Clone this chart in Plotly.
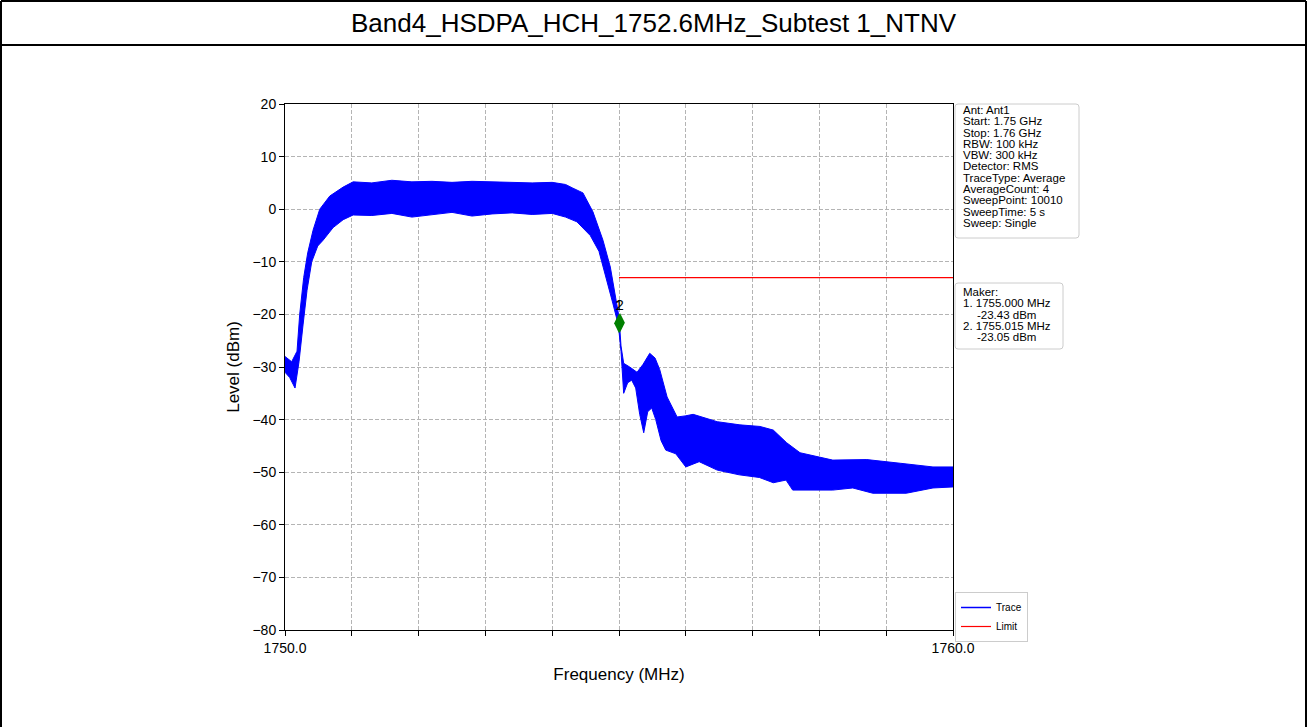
import plotly.graph_objects as go

W, H = 1308, 727

# ---------------- data ----------------
freq_upper = [1750.00, 1750.05, 1750.10, 1750.18, 1750.22, 1750.28, 1750.34, 1750.42, 1750.52, 1750.67,
              1750.87, 1751.02, 1751.3, 1751.6, 1751.9, 1752.2, 1752.5, 1752.8, 1753.1, 1753.4,
              1753.7, 1754.0, 1754.2, 1754.31, 1754.46, 1754.61, 1754.76, 1754.87, 1754.94, 1755.00,
              1755.03, 1755.07, 1755.16, 1755.27, 1755.36, 1755.46, 1755.54, 1755.61, 1755.72, 1755.87,
              1755.99, 1756.11, 1756.47, 1756.81, 1757.11, 1757.31, 1757.51, 1757.71, 1758.20, 1758.71,
              1759.21, 1759.70, 1760.00]
level_upper = [-28, -28.5, -29, -27, -20, -13, -8.3, -4, 0, 2.5,
               4.2, 5.2, 5.0, 5.5, 5.2, 5.3, 5.1, 5.3, 5.2, 5.2,
               5.0, 5.1, 4.7, 4.0, 3.1, -0.5, -5.9, -11, -16.5, -20.5,
               -26, -29.3, -30, -31, -29.5, -27.4, -28.3, -30.5, -35.7, -39.5,
               -39.3, -39.0, -40.4, -41.0, -41.3, -42.0, -44.4, -46.3, -47.7, -47.6,
               -48.3, -49, -49]

freq_lower = [1750.00, 1750.07, 1750.15, 1750.21, 1750.27, 1750.33, 1750.40, 1750.49, 1750.57, 1750.72,
              1750.87, 1751.02, 1751.3, 1751.6, 1751.9, 1752.2, 1752.5, 1752.8, 1753.1, 1753.4,
              1753.7, 1754.0, 1754.2, 1754.37, 1754.57, 1754.70, 1754.81, 1754.91, 1754.99, 1755.03,
              1755.07, 1755.13, 1755.19, 1755.25, 1755.31, 1755.37, 1755.43, 1755.49, 1755.55, 1755.63,
              1755.70, 1755.85, 1756.0, 1756.2, 1756.47, 1756.8, 1757.1, 1757.31, 1757.5, 1757.6,
              1758.2, 1758.5, 1758.8, 1759.3, 1759.7, 1760.0]
level_lower = [-31, -32, -34, -29, -22, -15.4, -10, -7, -5.9, -3.5,
               -2.0, -1.1, -1.2, -0.8, -1.5, -1.0, -0.6, -1.3, -0.9, -0.7,
               -1.0, -0.8, -1.5, -2.4, -5, -8, -13, -18, -22, -27,
               -35, -33, -32.5, -34, -39, -42.5, -38.5, -37.8, -40, -44,
               -45.8, -46.5, -49, -48, -49.6, -50.5, -51, -52, -51.5, -53.4,
               -53.4, -53, -54, -54, -53, -52.8]

limit_freq = [1755.0, 1760.0]
limit_level = [-13, -13]

marker_ids = ["1", "2"]
marker_freq = [1755.000, 1755.015]
marker_plot_level = [-21.7, -21.6]
marker_readout = [-23.43, -23.05]

x_tick_vals = [1750, 1751, 1752, 1753, 1754, 1755, 1756, 1757, 1758, 1759, 1760]
x_tick_text = ["1750.0", "", "", "", "", "", "", "", "", "", "1760.0"]
y_tick_vals = [20, 10, 0, -10, -20, -30, -40, -50, -60, -70, -80]

title_text = "Band4_HSDPA_HCH_1752.6MHz_Subtest 1_NTNV"
info_lines = ["Ant: Ant1", "Start: 1.75 GHz", "Stop: 1.76 GHz", "RBW: 100 kHz", "VBW: 300 kHz",
              "Detector: RMS", "TraceType: Average", "AverageCount: 4", "SweepPoint: 10010",
              "SweepTime: 5 s", "Sweep: Single"]

FONT = "Liberation Sans, Arial, sans-serif"


def px(x):
    return x / W


def py(y):
    return 1 - y / H


fig = go.Figure()

# spectrum band: lower edge, then upper edge filled down to it
fig.add_trace(go.Scatter(x=freq_lower, y=level_lower, mode="lines",
                         line=dict(color="#0000ff", width=1), showlegend=False, hoverinfo="skip"))
fig.add_trace(go.Scatter(x=freq_upper, y=level_upper, mode="lines", fill="tonexty",
                         fillcolor="#0000ff", line=dict(color="#0000ff", width=1),
                         showlegend=False, name="Trace"))
# legend entries
fig.add_trace(go.Scatter(x=[None], y=[None], mode="lines", line=dict(color="#0000ff", width=1.5),
                         name="Trace"))
fig.add_trace(go.Scatter(x=limit_freq, y=limit_level, mode="lines",
                         line=dict(color="#ff0000", width=1.2), name="Limit"))
# markers
fig.add_trace(go.Scatter(x=marker_freq, y=marker_plot_level, mode="markers+text",
                         text=marker_ids, textposition="top center",
                         textfont=dict(family=FONT, size=14, color="black"),
                         marker=dict(symbol="diamond-tall", color="#008000", size=14,
                                     line=dict(color="#008000", width=0)),
                         showlegend=False))

grid_kw = dict(showgrid=True, gridcolor="#b4b4b4", griddash="4px,2px", gridwidth=0.8)

fig.update_xaxes(range=[1750, 1760], domain=[px(285), px(953)],
                 tickvals=x_tick_vals, ticktext=x_tick_text,
                 ticks="outside", ticklen=5, tickcolor="black", tickwidth=1,
                 showline=True, linecolor="black", linewidth=1, mirror=True,
                 zeroline=False, automargin=False, tickfont=dict(family=FONT, size=14, color="black"),
                 title=dict(text="Frequency (MHz)", font=dict(family=FONT, size=17, color="black"),
                            standoff=13),
                 **grid_kw)
fig.update_yaxes(range=[-80, 20], domain=[py(630), py(104)],
                 tickvals=y_tick_vals,
                 ticks="outside", ticklen=5, tickcolor="black", tickwidth=1,
                 showline=True, linecolor="black", linewidth=1, mirror=True,
                 zeroline=False, automargin=False, tickfont=dict(family=FONT, size=14, color="black"),
                 title=dict(text="Level (dBm)", font=dict(family=FONT, size=17, color="black"),
                            standoff=8),
                 **grid_kw)

shapes = []
# outer frame + title separator
shapes.append(dict(type="line", xref="paper", yref="paper", x0=px(1), x1=px(1), y0=0, y1=py(1),
                   line=dict(color="black", width=2)))
shapes.append(dict(type="line", xref="paper", yref="paper", x0=px(1306), x1=px(1306), y0=0, y1=py(1),
                   line=dict(color="black", width=2)))
shapes.append(dict(type="line", xref="paper", yref="paper", x0=px(1), x1=px(1306), y0=py(1), y1=py(1),
                   line=dict(color="black", width=2)))
shapes.append(dict(type="line", xref="paper", yref="paper", x0=px(1), x1=px(1306), y0=py(45), y1=py(45),
                   line=dict(color="black", width=2)))


def rounded_box(x0, y0, x1, y1, r=3):
    X0, X1 = px(x0), px(x1)
    rx, ry = r / W, r / H
    Y0, Y1 = py(y0), py(y1)
    path = (f"M {X0+rx},{Y0} L {X1-rx},{Y0} Q {X1},{Y0} {X1},{Y0-ry} "
            f"L {X1},{Y1+ry} Q {X1},{Y1} {X1-rx},{Y1} L {X0+rx},{Y1} Q {X0},{Y1} {X0},{Y1+ry} "
            f"L {X0},{Y0-ry} Q {X0},{Y0} {X0+rx},{Y0} Z")
    return dict(type="path", xref="paper", yref="paper", path=path,
                line=dict(color="#cccccc", width=1), fillcolor="white", layer="above")


shapes.append(rounded_box(955, 104, 1079, 238))
shapes.append(rounded_box(955, 283, 1063, 349))

annotations = []
annotations.append(dict(text=title_text, xref="paper", yref="paper", x=px(654), y=py(23),
                        xanchor="center", yanchor="middle", showarrow=False,
                        font=dict(family=FONT, size=26, color="black")))
for i, line in enumerate(info_lines):
    annotations.append(dict(text=line, xref="paper", yref="paper", x=px(961), y=py(110 + i * 11.3),
                            xanchor="left", yanchor="middle", showarrow=False,
                            font=dict(family=FONT, size=11.5, color="black")))

maker_rows = [("Maker:", 961)]
for mid, f, lv in zip(marker_ids, marker_freq, marker_readout):
    maker_rows.append((f"{mid}. {f:.3f} MHz", 961))
    maker_rows.append((f"{lv:.2f} dBm", 975))
for i, (txt, xx) in enumerate(maker_rows):
    annotations.append(dict(text=txt, xref="paper", yref="paper", x=px(xx), y=py(292 + i * 11.3),
                            xanchor="left", yanchor="middle", showarrow=False,
                            font=dict(family=FONT, size=11.5, color="black")))

fig.update_layout(
    width=W, height=H, margin=dict(l=0, r=0, t=0, b=0, pad=0, autoexpand=False),
    paper_bgcolor="white", plot_bgcolor="white",
    font=dict(family=FONT, color="black"),
    shapes=shapes, annotations=annotations,
    legend=dict(x=px(955), y=py(592), xanchor="left", yanchor="top", traceorder="normal",
                bgcolor="white", bordercolor="#cccccc", borderwidth=1,
                font=dict(family=FONT, size=10, color="black"), itemwidth=30,
                tracegroupgap=0),
)

fig.write_html("out.html", config={"displayModeBar": False},
               post_script="document.body.style.margin='0px';document.body.style.overflow='hidden';")
